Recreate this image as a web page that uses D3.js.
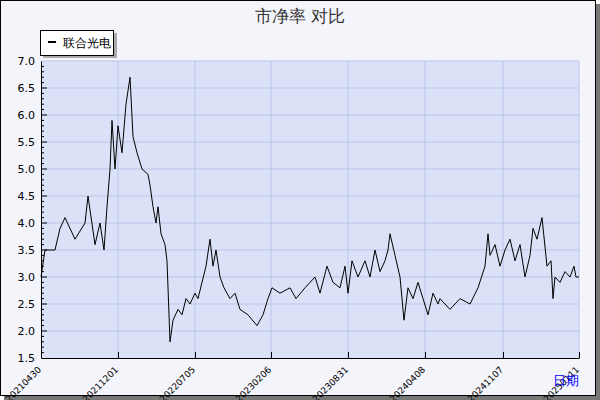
<!DOCTYPE html>
<html>
<head>
<meta charset="utf-8" />
<script src="https://d3js.org/d3.v7.min.js"></script>
<style>
  body { margin: 0; padding: 0; background: #fff; }
  text { font-family: "DejaVu Sans", sans-serif; }
</style>
</head>
<body>
<div id="chart"></div>
<script>
// trading-day index and P/B value
const days = [0,4,14,19,24,34,44,47,54,59,63,66,69,71,74,77,81,85,89,92,96,101,107,109,112,115,117,120,124,126,129,132,137,141,145,149,154,157,165,169,172,175,179,183,189,194,199,207,216,222,227,231,239,249,255,264,274,279,286,292,299,304,307,311,317,324,329,334,339,344,347,349,354,359,363,367,372,377,382,387,392,397,399,409,419,429,437,444,447,449,454,459,464,469,474,479,484,489,492,496,501,506,510,512,514,519,524,529,533,535,538];
const values = [3.0,3.5,3.5,3.9,4.1,3.7,4.0,4.5,3.6,4.0,3.5,4.3,5.0,5.9,5.0,5.8,5.3,6.2,6.7,5.6,5.3,5.0,4.9,4.7,4.3,4.0,4.3,3.8,3.6,3.3,1.8,2.2,2.4,2.3,2.6,2.5,2.7,2.6,3.2,3.7,3.2,3.5,3.0,2.8,2.6,2.7,2.4,2.3,2.1,2.3,2.6,2.8,2.7,2.8,2.6,2.8,3.0,2.7,3.2,2.9,2.8,3.2,2.7,3.3,3.0,3.3,3.0,3.5,3.1,3.3,3.5,3.8,3.4,3.0,2.2,2.8,2.6,2.9,2.6,2.3,2.7,2.5,2.6,2.4,2.6,2.5,2.8,3.2,3.8,3.4,3.6,3.2,3.5,3.7,3.3,3.6,3.0,3.4,3.9,3.7,4.1,3.2,3.3,2.6,3.0,2.9,3.1,3.0,3.2,3.0,3.0];
const tickDays = [0,77,154,230,307,384,462,538];
const tickLabels = ["20210430","20211201","20220705","20230206","20230831","20240408","20241107","20250111"];
const yTicks = [1.5,2.0,2.5,3.0,3.5,4.0,4.5,5.0,5.5,6.0,6.5,7.0];
const seriesName = "联合光电";

const W = 600, H = 400;
const m = {left: 41, right: 20, top: 61, bottom: 42};
const svg = d3.select("#chart").append("svg").attr("width", W).attr("height", H);

// frame with shadow
svg.append("rect").attr("x", 4).attr("y", 4).attr("width", W - 4).attr("height", H - 4).attr("fill", "#777");
svg.append("rect").attr("x", 0.5).attr("y", 0.5).attr("width", W - 5).attr("height", H - 5)
  .attr("fill", "#f4f4fb").attr("stroke", "#000");

const x = d3.scaleLinear().domain([0, 538]).range([m.left, W - m.right - 1]);
const y = d3.scaleLinear().domain([1.5, 7.0]).range([H - m.bottom, m.top]);

svg.append("rect").attr("x", x(0)).attr("y", y(7)).attr("width", x(538) - x(0)).attr("height", y(1.5) - y(7))
  .attr("fill", "#dbe1f6");

// grid
svg.append("g").selectAll("line").data(yTicks.slice(1)).join("line")
  .attr("x1", x(0)).attr("x2", x(538)).attr("y1", d => y(d)).attr("y2", d => y(d))
  .attr("stroke", "#b9c5ea");
svg.append("g").selectAll("line").data(tickDays.slice(1)).join("line")
  .attr("x1", d => x(d)).attr("x2", d => x(d)).attr("y1", y(1.5)).attr("y2", y(7))
  .attr("stroke", "#b9c5ea");

// y axis
const ya = svg.append("g").attr("transform", `translate(${x(0)},0)`)
  .call(d3.axisLeft(y).tickValues(yTicks).tickFormat(d3.format(".1f")).tickSize(0).tickPadding(6));
ya.select(".domain").attr("stroke", "#000");
ya.selectAll("text").attr("font-size", 11).attr("fill", "#000");
const minor = d3.range(1.6, 7.0, 0.1);
svg.append("g").selectAll("line").data(minor).join("line")
  .attr("x1", x(0)).attr("x2", d => x(0) + (Math.abs(d * 2 - Math.round(d * 2)) < 1e-6 ? 6 : 3))
  .attr("y1", d => y(d)).attr("y2", d => y(d)).attr("stroke", "#000");

// x axis
const xa = svg.append("g").attr("transform", `translate(0,${y(1.5)})`)
  .call(d3.axisBottom(x).tickValues(tickDays).tickFormat((d, i) => tickLabels[i]).tickSize(-6).tickSizeOuter(0));
xa.select(".domain").attr("stroke", "#000");
xa.selectAll("line").attr("stroke", "#000");
xa.selectAll("text").attr("font-size", 9).attr("fill", "#000")
  .attr("text-anchor", "end").attr("x", 0).attr("y", 0).attr("dy", "0.35em")
  .attr("transform", "translate(-2,10) rotate(-45)");

// line
svg.append("path").datum(days.map((d, i) => [d, values[i]]))
  .attr("fill", "none").attr("stroke", "#000").attr("stroke-width", 1)
  .attr("d", d3.line().x(d => x(d[0])).y(d => y(d[1])));

// title
svg.append("text").attr("x", 300).attr("y", 22).attr("text-anchor", "middle")
  .attr("font-size", 17).attr("fill", "#333").attr("font-family", "Noto Sans CJK SC")
  .text("市净率  对比");

// legend
svg.append("rect").attr("x", 43).attr("y", 33).attr("width", 74).attr("height", 25).attr("fill", "#aaa");
svg.append("rect").attr("x", 40.5).attr("y", 30.5).attr("width", 73).attr("height", 25).attr("fill", "#fff").attr("stroke", "#000");
svg.append("line").attr("x1", 48).attr("x2", 56).attr("y1", 42).attr("y2", 42).attr("stroke", "#000").attr("stroke-width", 2);
svg.append("text").attr("x", 63).attr("y", 47).attr("font-size", 12).attr("font-family", "Noto Sans CJK SC").text(seriesName);

// x axis title
svg.append("text").attr("x", 579).attr("y", 385).attr("text-anchor", "end")
  .attr("font-size", 13).attr("fill", "#00f").attr("font-family", "Noto Sans CJK SC").text("日期");
</script>
</body>
</html>
